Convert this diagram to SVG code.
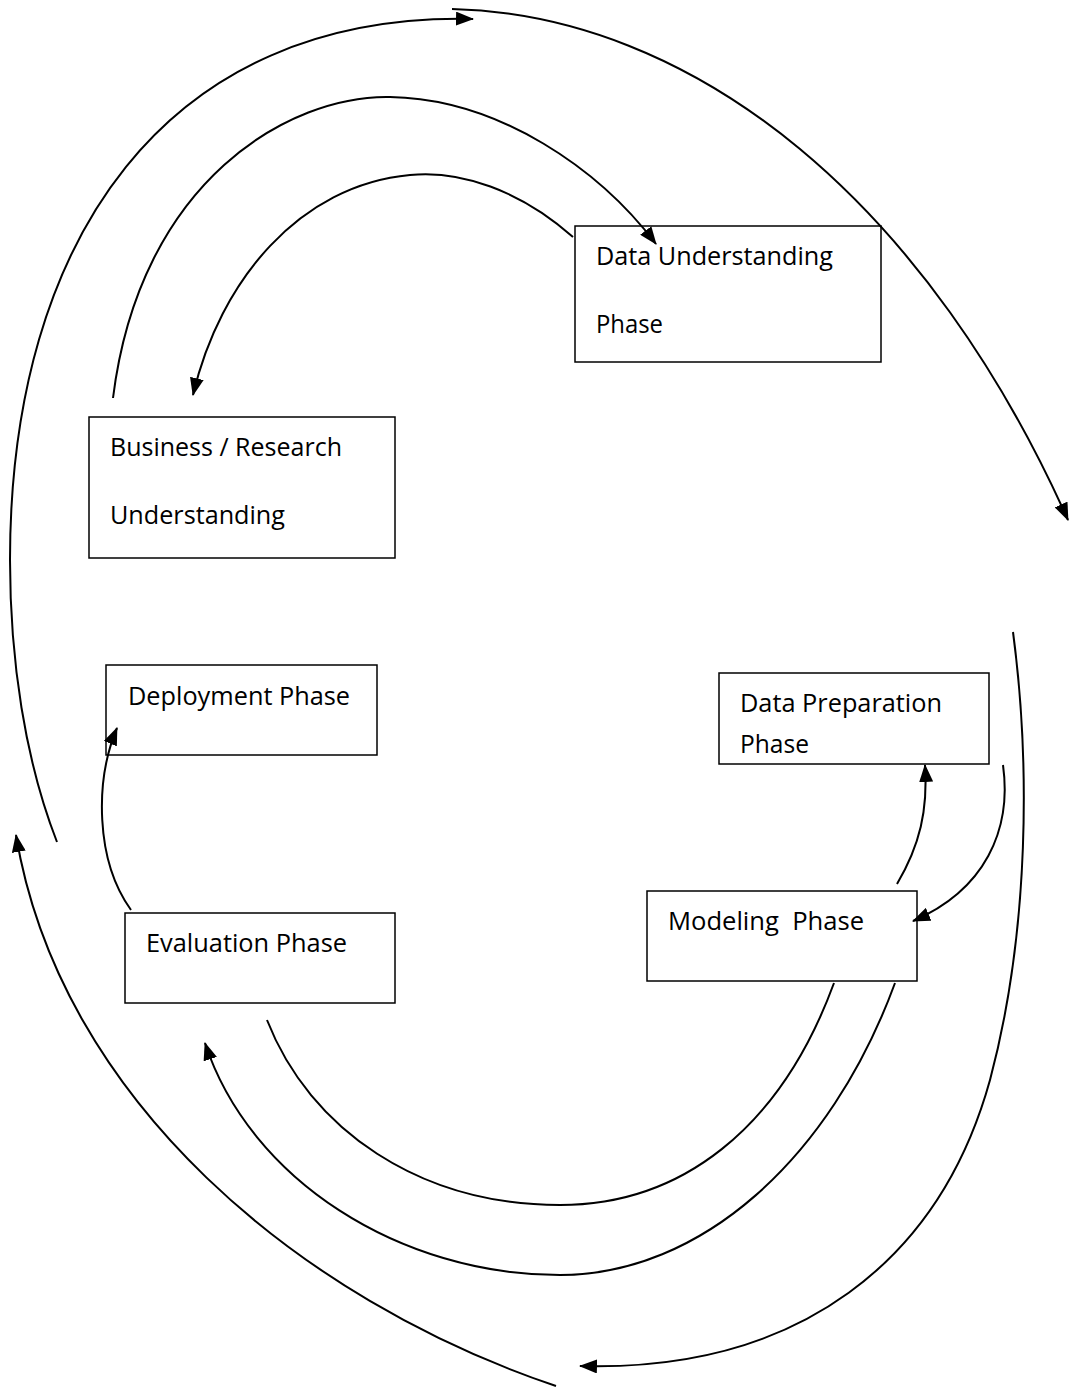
<svg xmlns="http://www.w3.org/2000/svg" width="1077" height="1387" viewBox="0 0 1077 1387">
<style>
  .box { fill: #ffffff; stroke: #000000; stroke-width: 1.5; }
  .lbl { font-family: "Open Sans", "Noto Sans", "Liberation Sans", sans-serif; font-size: 25px; fill: #000000; }
  .con { fill: none; stroke: #000000; stroke-width: 2; }
</style>
<defs>
  <marker id="arr" markerWidth="18" markerHeight="14" refX="17" refY="7" orient="auto" markerUnits="userSpaceOnUse">
    <path d="M0,0 L18,7 L0,14 z" fill="#000000"/>
  </marker>
</defs>
<rect width="1077" height="1387" fill="#ffffff"/>
<g id="node-data-understanding">
  <rect class="box" x="575" y="226" width="306" height="136"/>
  <text class="lbl" x="596" y="265" textLength="237" lengthAdjust="spacingAndGlyphs">Data Understanding</text>
  <text class="lbl" x="596" y="333" textLength="67" lengthAdjust="spacingAndGlyphs">Phase</text>
</g>
<g id="node-business">
  <rect class="box" x="89" y="417" width="306" height="141"/>
  <text class="lbl" x="110" y="456" textLength="232" lengthAdjust="spacingAndGlyphs">Business / Research</text>
  <text class="lbl" x="110" y="524" textLength="175" lengthAdjust="spacingAndGlyphs">Understanding</text>
</g>
<g id="node-deployment">
  <rect class="box" x="106" y="665" width="271" height="90"/>
  <text class="lbl" x="128" y="705" textLength="222" lengthAdjust="spacingAndGlyphs">Deployment Phase</text>
</g>
<g id="node-data-preparation">
  <rect class="box" x="719" y="673" width="270" height="91"/>
  <text class="lbl" x="740" y="712" textLength="202" lengthAdjust="spacingAndGlyphs">Data Preparation</text>
  <text class="lbl" x="740" y="753" textLength="69" lengthAdjust="spacingAndGlyphs">Phase</text>
</g>
<g id="node-modeling">
  <rect class="box" x="647" y="891" width="270" height="90"/>
  <text class="lbl" x="668" y="930" textLength="196" lengthAdjust="spacingAndGlyphs" xml:space="preserve">Modeling  Phase</text>
</g>
<g id="node-evaluation">
  <rect class="box" x="125" y="913" width="270" height="90"/>
  <text class="lbl" x="146" y="952" textLength="201" lengthAdjust="spacingAndGlyphs">Evaluation Phase</text>
</g>
<g id="connectors">
  <path class="con" d="M57,842 C25,760 10,660 10,560 C10,240 165,12 473,19" marker-end="url(#arr)"/>
  <path class="con" d="M452,9 A765,1190 0 0 1 1068,520" marker-end="url(#arr)"/>
  <path class="con" d="M1013,632 C1030,760 1030,930 990,1080 C940,1260 800,1372 580,1366" marker-end="url(#arr)"/>
  <path class="con" d="M556,1386 C300,1300 60,1100 16,835" marker-end="url(#arr)"/>
  <path class="con" d="M113,398 C140,180 290,95 390,97 C500,99 600,170 656,244" marker-end="url(#arr)"/>
  <path class="con" d="M573,237 C520,190 460,170 410,175 C300,185 220,280 193,395" marker-end="url(#arr)"/>
  <path class="con" d="M897,884 C920,845 928,810 925,765" marker-end="url(#arr)"/>
  <path class="con" d="M1003,765 C1012,830 985,890 913,921" marker-end="url(#arr)"/>
  <path class="con" d="M834,983 C780,1130 680,1205 560,1205 C420,1205 310,1130 267,1020"/>
  <path class="con" d="M895,983 C830,1160 700,1275 560,1275 C400,1275 250,1180 205,1043" marker-end="url(#arr)"/>
  <path class="con" d="M131,910 C95,860 95,780 117,728" marker-end="url(#arr)"/>
</g>
</svg>
